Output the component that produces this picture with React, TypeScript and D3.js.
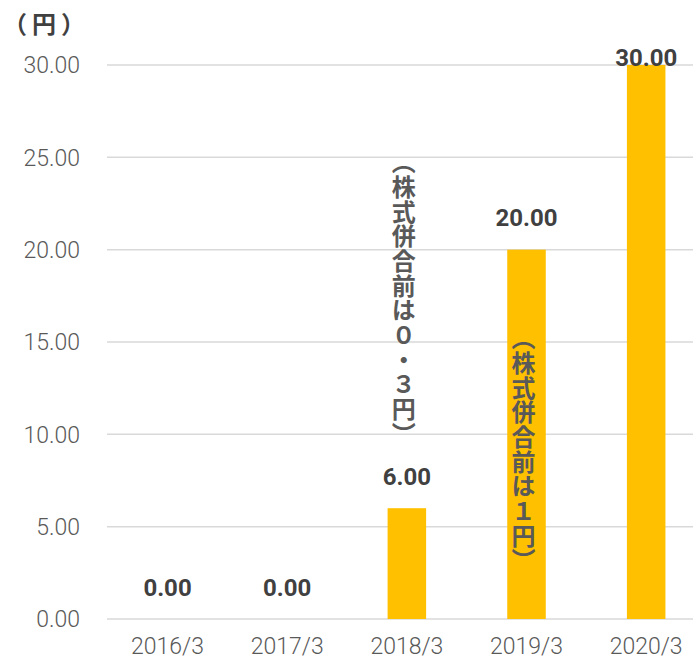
import React from "react";
import * as d3 from "d3";

const categories = ["2016/3", "2017/3", "2018/3", "2019/3", "2020/3"];
const values = [0, 0, 6, 20, 30];
const valueLabels = ["0.00", "0.00", "6.00", "20.00", "30.00"];
const yTicks = [0, 5, 10, 15, 20, 25, 30];
const notes = [
  { cat: "2018/3", text: "（株式併合前は０・３円）", top: 150 },
  { cat: "2019/3", text: "（株式併合前は１円）", top: 326 },
];
const unitLabel = "（円）";

export default function App() {
  const W = 693, H = 660;
  const band = d3.scaleBand<string>().domain(categories).range([107.7, 706]);
  const y = d3.scaleLinear().domain([0, 30]).range([619, 65]);
  const cx = (c: string) => (band(c) as number) + band.bandwidth() / 2;
  const barW = band.bandwidth() * 0.322;
  const jp = "'Noto Sans CJK JP', 'Noto Sans', sans-serif";
  const num = "Roboto, 'Noto Sans', sans-serif";
  return (
    <svg width={W} height={H} style={{ position: "absolute", left: 0, top: 0, background: "#fff" }}>
      {yTicks.map((t) => (
        <g key={t}>
          <line x1={107} x2={W} y1={y(t)} y2={y(t)} stroke="#d9d9d9" strokeWidth={1.5} />
          <text x={80} y={y(t)} dy="0.36em" textAnchor="end" fontFamily={num} fontWeight={300} fontSize={23} fill="#595959">
            {d3.format(".2f")(t)}
          </text>
        </g>
      ))}
      {categories.map((c, i) => (
        <g key={c}>
          <rect x={cx(c) - barW / 2} width={barW} y={y(values[i])} height={y(0) - y(values[i])} fill="#FFC000" />
          <text x={cx(c)} y={Math.max(y(values[i]) - 32, 57)} dy="0.36em" textAnchor="middle" fontFamily={num} fontWeight={700} fontSize={24} fill="#404040">
            {valueLabels[i]}
          </text>
          <text x={cx(c)} y={645.5} dy="0.36em" textAnchor="middle" fontFamily={num} fontWeight={300} fontSize={23} fill="#595959">
            {c}
          </text>
        </g>
      ))}
      {notes.map((n) => (
        <text key={n.cat} x={cx(n.cat) - 3} y={n.top} style={{ writingMode: "vertical-rl", letterSpacing: "0.7px" } as any} fontFamily={jp} fontWeight={700} fontSize={24} fill="#595959">
          {n.text}
        </text>
      ))}
      <text x={3} y={24} dy="0.36em" style={{ letterSpacing: "5px" }} fontFamily={jp} fontWeight={700} fontSize={24} fill="#404040">{unitLabel}</text>
    </svg>
  );
}
